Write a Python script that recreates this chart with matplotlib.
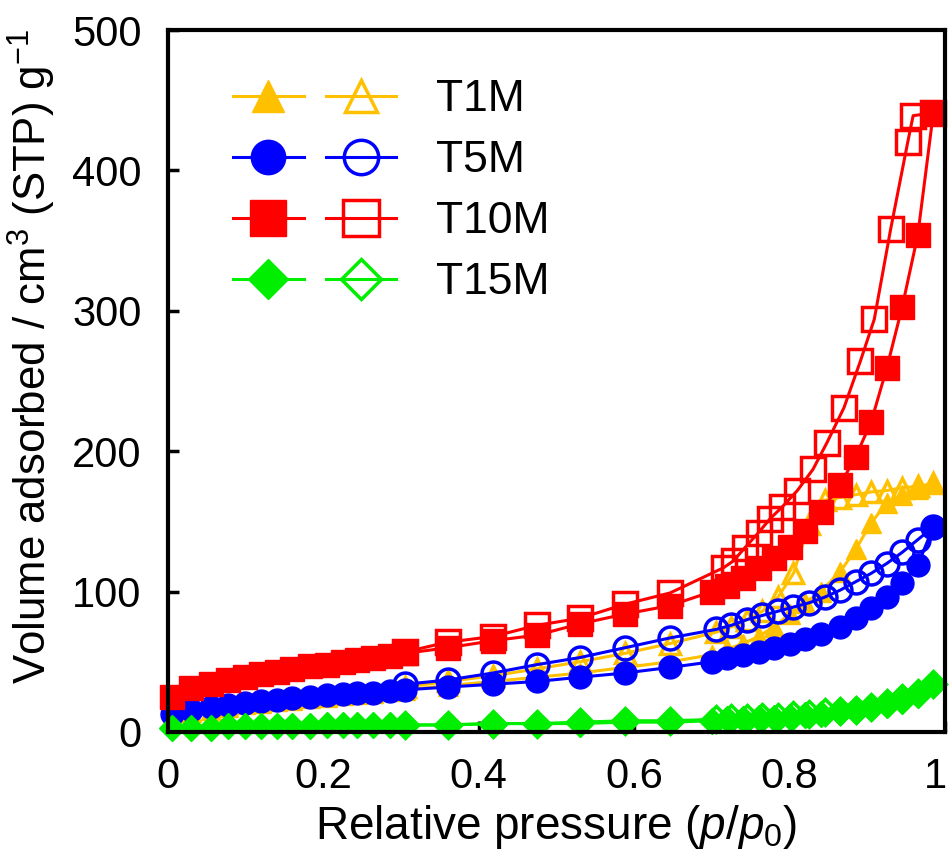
import matplotlib.pyplot as plt
import matplotlib.transforms as mtransforms

plt.rcParams['font.family'] = ['Liberation Sans', 'DejaVu Sans']
plt.rcParams['mathtext.fontset'] = 'custom'
plt.rcParams['mathtext.rm'] = 'Liberation Sans'
plt.rcParams['mathtext.it'] = 'Liberation Sans:italic'

# relative pressures, adsorption and desorption branches
p_ads = [0.005, 0.03, 0.055, 0.077, 0.099, 0.12, 0.14, 0.16, 0.183, 0.205, 0.225, 0.243, 0.264, 0.286, 0.305,
         0.36, 0.418, 0.475, 0.53, 0.588, 0.646,
         0.70, 0.72, 0.74, 0.76, 0.78, 0.80, 0.82, 0.84, 0.865, 0.885, 0.905, 0.925, 0.945, 0.965, 0.985]
p_des = [0.985, 0.965, 0.945, 0.925, 0.905, 0.885, 0.865, 0.845, 0.825, 0.805, 0.785, 0.765, 0.745, 0.725, 0.705,
         0.646, 0.588, 0.53, 0.475, 0.418, 0.36, 0.305]
p_des_t10 = [0.985, 0.959, 0.952, 0.930, 0.909, 0.891, 0.870, 0.848, 0.830, 0.81, 0.79, 0.775, 0.76, 0.742, 0.728,
             0.715, 0.646, 0.588, 0.53, 0.475, 0.418, 0.36, 0.305]

t1_ads = [11, 14, 16, 18, 20, 21, 22, 23, 24, 25, 26, 27, 28, 29, 30,
          33, 36, 39, 42, 46, 50,
          55, 59, 63, 68, 75, 84, 92, 100, 114, 130, 149, 163, 169, 173, 177]
t1_des = [177, 175, 174, 172, 171, 169, 167, 165, 148, 113, 96, 86, 80, 75, 71, 63, 56, 50, 45, 40, 36, 32]

t5_ads = [13, 16, 18, 19, 21, 22, 23, 24, 25, 26, 27, 28, 28, 29, 30,
          32, 34, 36, 39, 42, 46,
          50, 53, 55, 57, 60, 63, 66, 70, 75, 81, 88, 96, 106, 119, 146]
t5_des = [146, 137, 128, 120, 113, 107, 101, 96, 92, 89, 86, 83, 80, 76, 73, 67, 60, 53, 48, 42, 37, 34]

t10_ads = [25, 31, 34, 37, 39, 41, 43, 45, 47, 48, 50, 51, 53, 54, 56,
           60, 65, 69, 77, 84, 90,
           100, 104, 110, 117, 124, 132, 143, 157, 176, 196, 221, 259, 303, 354, 441]
t10_des = [441, 439, 420, 358, 294, 264, 231, 206, 187, 172, 160, 152, 142, 131, 122, 117, 99, 91, 81, 76, 68, 64, 57]

t15_ads = [3, 3, 3, 4, 4, 4, 4, 4, 4, 5, 5, 5, 5, 5, 5,
           5, 6, 6, 6, 7, 7,
           8, 9, 9, 10, 10, 11, 12, 13, 14, 15, 17, 19, 22, 26, 34]
t15_des = [34, 28, 24, 21, 18, 16, 15, 14, 13, 12, 11, 11, 10, 10, 9, 8, 8, 7, 6, 6, 5, 5]

samples = ['T1M', 'T5M', 'T10M', 'T15M']
colors = ['#FFC000', '#0000FF', '#FF0000', '#00EE00']
markers = ['^', 'o', 's', 'D']
sizes = [15, 16.5, 17, 13.5]

fig = plt.figure(figsize=(9.53, 8.68), dpi=100)
ax = fig.add_axes([0.1763, 0.1567, 0.8153, 0.8087])

ads_sets = [(p_ads, t1_ads), (p_ads, t5_ads), (p_ads, t10_ads), (p_ads, t15_ads)]
des_sets = [(p_des, t1_des), (p_des, t5_des), (p_des_t10, t10_des), (p_des, t15_des)]

filled, hollow = [], []
for i in range(4):
    c = colors[i]
    pa, va = ads_sets[i]
    pd, vd = des_sets[i]
    h1, = ax.plot(pa, va, color=c, marker=markers[i], ms=sizes[i], lw=2.2,
                  mfc=c, mec=c, clip_on=False)
    h2, = ax.plot(pd, vd, color=c, marker=markers[i], ms=sizes[i], lw=2.2,
                  mfc='none', mec=c, mew=2.5, clip_on=False)
    filled.append(h1)
    hollow.append(h2)

ax.set_xlim(0, 1)
ax.set_ylim(0, 500)
ax.set_xticks([0, 0.2, 0.4, 0.6, 0.8, 1])
ax.set_xticklabels(['0', '0.2', '0.4', '0.6', '0.8', '1'])
ax.set_yticks([0, 100, 200, 300, 400, 500])
ax.tick_params(direction='in', length=8, width=2.5, labelsize=30)
ax.tick_params(axis='x', pad=18)
ax.tick_params(axis='y', pad=19)
for s in ax.spines.values():
    s.set_linewidth(3)

# keep the last x tick label inside the canvas
last = ax.get_xticklabels()[-1]
last.set_transform(last.get_transform() + mtransforms.ScaledTranslation(-7 / 72, 0, fig.dpi_scale_trans))

ax.set_xlabel('Relative pressure ($\\mathit{p}$/$\\mathit{p}_{\\mathit{0}}$)', fontsize=33, labelpad=4)
ax.set_ylabel('Volume adsorbed / cm$^{3}$ (STP) g$^{-1}$', fontsize=31.5)
ax.yaxis.set_label_coords(-0.142, 0.535)

ax.legend(filled + hollow, ['', '', '', ''] + samples, ncol=2, loc='upper left',
          bbox_to_anchor=(0.084, 0.93), frameon=False, fontsize=32,
          borderpad=0, borderaxespad=0, markerscale=1.5,
          handlelength=1.58, columnspacing=-0.39, handletextpad=0.9, labelspacing=0.45)

fig.savefig('out.png', dpi=100)
